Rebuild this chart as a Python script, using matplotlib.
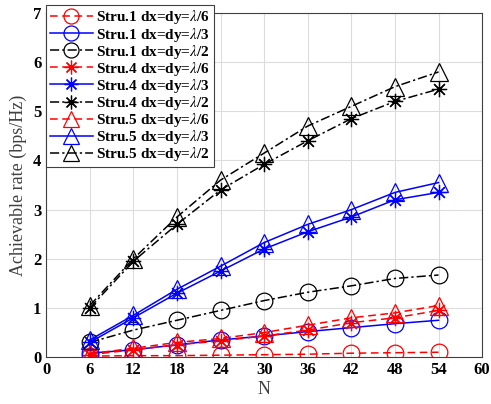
import numpy as np
import matplotlib
matplotlib.use("Agg")
import matplotlib.pyplot as plt

plt.rcParams["font.family"] = "Liberation Serif"
plt.rcParams["mathtext.fontset"] = "stix"

N = [6, 12, 18, 24, 30, 36, 42, 48, 54]

s1_l6 = [0.02, 0.03, 0.03, 0.04, 0.05, 0.06, 0.08, 0.09, 0.10]
s1_l3 = [0.08, 0.15, 0.25, 0.35, 0.43, 0.52, 0.60, 0.68, 0.75]
s1_l2 = [0.30, 0.55, 0.75, 0.95, 1.15, 1.32, 1.45, 1.60, 1.67]
s4_l6 = [0.05, 0.15, 0.25, 0.33, 0.43, 0.55, 0.70, 0.80, 0.95]
s4_l3 = [0.30, 0.80, 1.30, 1.75, 2.20, 2.55, 2.85, 3.20, 3.35]
s4_l2 = [1.00, 1.95, 2.70, 3.40, 3.92, 4.40, 4.85, 5.20, 5.45]
s5_l6 = [0.07, 0.18, 0.30, 0.38, 0.50, 0.65, 0.80, 0.90, 1.05]
s5_l3 = [0.35, 0.85, 1.38, 1.85, 2.33, 2.70, 3.00, 3.35, 3.55]
s5_l2 = [1.05, 2.00, 2.85, 3.60, 4.15, 4.70, 5.10, 5.50, 5.80]

labels = [r"Stru.1 dx=dy=$\lambda$/6", r"Stru.1 dx=dy=$\lambda$/3", r"Stru.1 dx=dy=$\lambda$/2",
          r"Stru.4 dx=dy=$\lambda$/6", r"Stru.4 dx=dy=$\lambda$/3", r"Stru.4 dx=dy=$\lambda$/2",
          r"Stru.5 dx=dy=$\lambda$/6", r"Stru.5 dx=dy=$\lambda$/3", r"Stru.5 dx=dy=$\lambda$/2"]

series = [s1_l6, s1_l3, s1_l2, s4_l6, s4_l3, s4_l2, s5_l6, s5_l3, s5_l2]
colors = ["red", "blue", "black"]
styles = [(0, (5, 3)), "-", (0, (6, 2, 1.5, 2))]
markers = ["o", (8, 2, 0), "^"]
msizes = [12, 11, 12.5]

fig = plt.figure(figsize=(4.91, 4.04), dpi=100)
ax = fig.add_axes([0.094, 0.116, 0.888, 0.852])

for i, y in enumerate(series):
    ax.plot(N, y, linestyle=styles[i % 3], color=colors[i % 3], marker=markers[i // 3],
            markersize=msizes[i // 3], markerfacecolor="none", markeredgewidth=0.9,
            linewidth=1.1, label=labels[i])

ax.set_xlim(0, 60)
ax.set_ylim(0, 7)
ax.set_xticks(np.arange(0, 61, 6))
ax.set_yticks(np.arange(0, 8, 1))
ax.grid(True, color="#dcdcdc", linewidth=0.8)
ax.set_axisbelow(True)
for lab in ax.get_xticklabels() + ax.get_yticklabels():
    lab.set_fontweight("bold")
ax.tick_params(labelsize=12, direction="in", length=0)
for sp in ax.spines.values():
    sp.set_color("#404040")

ax.set_xlabel("N", fontsize=13, color="#404040", labelpad=2)
ax.set_ylabel("Achievable rate (bps/Hz)", fontsize=13, color="#404040", labelpad=4)

leg = ax.legend(loc="upper left", bbox_to_anchor=(0.0, 1.024), fancybox=False,
                edgecolor="#404040", prop={"weight": "bold", "size": 11},
                handlelength=2.8, handletextpad=0.2, labelspacing=-0.06,
                borderpad=0.25, borderaxespad=0.0, framealpha=1, markerscale=0.9)
leg.get_frame().set_linewidth(0.8)

fig.savefig("out.png", dpi=100)
